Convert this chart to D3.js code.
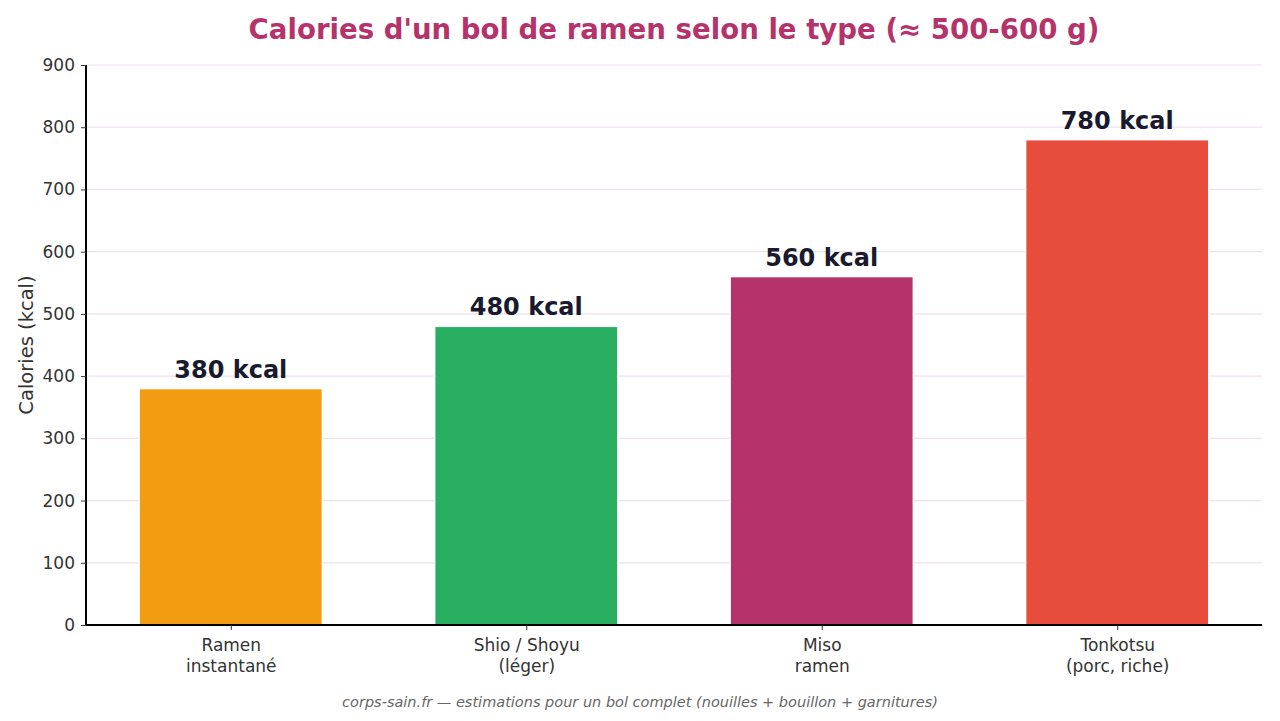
<!DOCTYPE html>
<html>
<head>
<meta charset="utf-8">
<script src="https://cdn.jsdelivr.net/npm/d3@7"></script>
<style>
  body { margin: 0; background: #fff; }
  svg { font-family: "DejaVu Sans", sans-serif; }
</style>
</head>
<body>
<svg id="chart" width="1280" height="721"></svg>
<script>
const categories = ["Ramen\ninstantané", "Shio / Shoyu\n(léger)", "Miso\nramen", "Tonkotsu\n(porc, riche)"];
const calories = [380, 480, 560, 780];
const barColors = ["#f39c12", "#27ae60", "#b5336a", "#e74c3c"];
const yTicks = [0, 100, 200, 300, 400, 500, 600, 700, 800, 900];

const svg = d3.select("#chart");
const plotLeft = 86, plotRight = 1262, plotTop = 65, plotBottom = 625;

const x = d3.scaleLinear().domain([-0.49, 3.49]).range([plotLeft, plotRight]);
const y = d3.scaleLinear().domain([0, 900]).range([plotBottom, plotTop]);
const barW = x(0.62) - x(0);

// grid
svg.append("g").selectAll("line").data(yTicks.slice(1)).enter().append("line")
  .attr("x1", plotLeft).attr("x2", plotRight)
  .attr("y1", d => y(d)).attr("y2", d => y(d))
  .attr("stroke", "#efe0ef").attr("stroke-width", 1.2);

// bars
svg.append("g").selectAll("rect").data(calories).enter().append("rect")
  .attr("x", (d, i) => x(i) - barW / 2)
  .attr("y", d => y(d))
  .attr("width", barW)
  .attr("height", d => y(0) - y(d))
  .attr("fill", (d, i) => barColors[i])
  .attr("stroke", "#fff").attr("stroke-width", 1.5);

// value labels
svg.append("g").selectAll("text").data(calories).enter().append("text")
  .attr("x", (d, i) => x(i))
  .attr("y", d => y(d) - 11)
  .attr("text-anchor", "middle")
  .attr("font-size", 24).attr("font-weight", "bold")
  .attr("fill", "#1a1a2e")
  .text(d => `${d} kcal`);

// axes
const yAxis = svg.append("g").attr("transform", `translate(${plotLeft},0)`)
  .call(d3.axisLeft(y).tickValues(yTicks).tickSize(5).tickPadding(6));
yAxis.select(".domain").attr("stroke", "#000").attr("stroke-width", 1.2)
  .attr("shape-rendering", "crispEdges").attr("d", `M0,${plotTop}V${plotBottom}`);
yAxis.selectAll(".tick line").attr("stroke", "#333");
yAxis.selectAll(".tick text").attr("font-size", 17).attr("fill", "#333").attr("font-family", "DejaVu Sans");

const xAxis = svg.append("g").attr("transform", `translate(0,${plotBottom})`)
  .call(d3.axisBottom(x).tickValues([0, 1, 2, 3]).tickSize(5).tickFormat(""));
xAxis.select(".domain").attr("stroke", "#000").attr("stroke-width", 1.2)
  .attr("shape-rendering", "crispEdges").attr("d", `M${plotLeft},0H${plotRight}`);
xAxis.selectAll(".tick line").attr("stroke", "#333");
xAxis.selectAll(".tick").each(function(d) {
  const t = d3.select(this).append("text")
    .attr("text-anchor", "middle").attr("fill", "#333")
    .attr("font-size", 17).attr("font-family", "DejaVu Sans");
  categories[d].split("\n").forEach((line, k) => {
    t.append("tspan").attr("x", 0).attr("y", 26 + k * 20.5).text(line);
  });
});

// y label
svg.append("text")
  .attr("transform", `translate(33,${(plotTop + plotBottom) / 2}) rotate(-90)`)
  .attr("text-anchor", "middle").attr("font-size", 19.5).attr("fill", "#333")
  .text("Calories (kcal)");

// title
svg.append("text")
  .attr("x", (plotLeft + plotRight) / 2).attr("y", 39)
  .attr("text-anchor", "middle").attr("font-size", 27.6).attr("font-weight", "bold")
  .attr("fill", "#b5336a")
  .text("Calories d'un bol de ramen selon le type (≈ 500-600 g)");

// footer
svg.append("text")
  .attr("x", 640).attr("y", 707)
  .attr("text-anchor", "middle").attr("font-size", 14.5).attr("font-style", "italic")
  .attr("fill", "#666")
  .text("corps-sain.fr — estimations pour un bol complet (nouilles + bouillon + garnitures)");
</script>
</body>
</html>
